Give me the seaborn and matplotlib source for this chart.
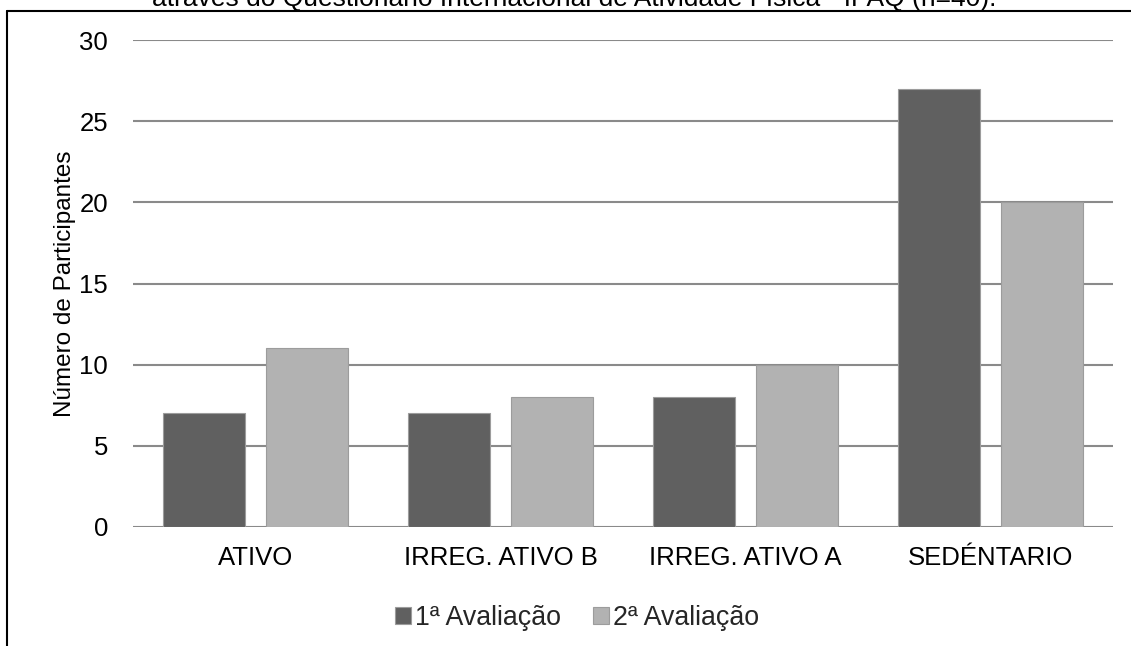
import matplotlib
matplotlib.use("Agg")
import matplotlib.pyplot as plt
from matplotlib.lines import Line2D
import seaborn as sns
import pandas as pd

categories = ["ATIVO", "IRREG. ATIVO B", "IRREG. ATIVO A", "SEDÉNTARIO"]
series_names = ["1ª Avaliação", "2ª Avaliação"]
aval1 = [7, 7, 8, 27]
aval2 = [11, 8, 10, 20]
y_ticks = [0, 5, 10, 15, 20, 25, 30]
y_label = "Número de Participantes"
title_text = "através do Questionário Internacional de Atividade Física - IPAQ (n=40)."

colors = ["#606060", "#b2b2b2"]

df = pd.DataFrame({
    "cat": categories * 2,
    "val": aval1 + aval2,
    "serie": [series_names[0]] * len(categories) + [series_names[1]] * len(categories),
})

sns.set_theme(style="white")
plt.rcParams["font.family"] = ["Liberation Sans", "DejaVu Sans"]

W, H = 1131, 646
fig = plt.figure(figsize=(W / 100, H / 100), dpi=100)
ax = fig.add_axes([133 / W, 1 - 527 / H, (1113 - 133) / W, (527 - 40) / H])

sns.barplot(data=df, x="cat", y="val", hue="serie", order=categories,
            hue_order=series_names, palette=colors, saturation=1,
            width=0.834, gap=0.196, errorbar=None, ax=ax,
            edgecolor="#9c9c9c", linewidth=0.8)

ax.set_ylim(0, 30)
ax.set_xlim(-0.5, len(categories) - 0.5)
ax.set_yticks(y_ticks)
ax.set_yticklabels([str(t) for t in y_ticks])
ax.yaxis.grid(True, color="#8a8a8a", linewidth=1.5)
ax.xaxis.grid(False)
ax.set_axisbelow(True)
for s in ax.spines.values():
    s.set_visible(False)
ax.tick_params(axis="y", length=0, pad=18, labelsize=18.5, labelcolor="black")
ax.tick_params(axis="x", length=0, pad=14, labelsize=18.5, labelcolor="black")
ax.set_xlabel("")
ax.set_ylabel(y_label, fontsize=17.5, color="black")
ax.yaxis.set_label_coords((76 - 133) / (1113 - 133), 0.5)

handles, labels = ax.get_legend_handles_labels()
ax.legend(handles, labels, loc="center", bbox_to_anchor=(577 / W, 1 - 618 / H),
          bbox_transform=fig.transFigure, ncol=2, frameon=False, fontsize=19.3,
          handlelength=0.6, handleheight=0.6, handletextpad=0.15,
          columnspacing=1.2, borderpad=0)

# partially visible caption above the frame
fig.text(574 / W, 1 - 6 / H, title_text, ha="center", va="baseline",
         fontsize=19, color="black")

# outer frame (left and top edges visible)
fig.add_artist(Line2D([7 / W, 7 / W], [-0.01, 1 - 11 / H], transform=fig.transFigure,
                      color="black", linewidth=1.5))
fig.add_artist(Line2D([7 / W, 1.01], [1 - 11 / H, 1 - 11 / H], transform=fig.transFigure,
                      color="black", linewidth=1.5))

fig.savefig("out.png", dpi=100, facecolor="white")
